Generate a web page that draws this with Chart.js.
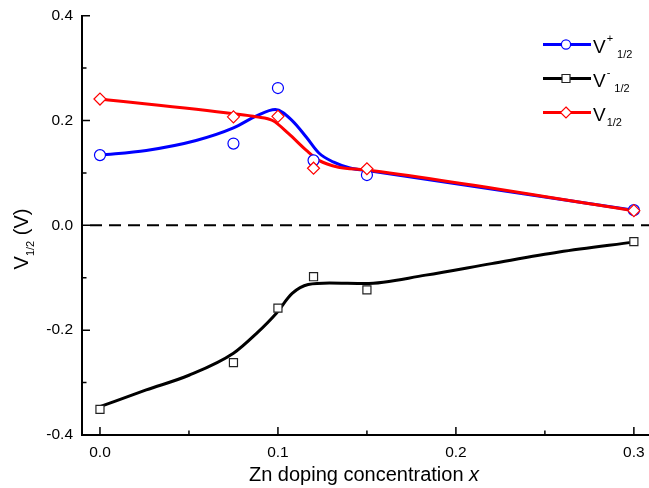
<!DOCTYPE html>
<html>
<head>
<meta charset="utf-8">
<script src="https://cdn.jsdelivr.net/npm/chart.js@4.4.0/dist/chart.umd.min.js"></script>
<style>
  html, body { margin: 0; padding: 0; background: #fff; }
  #wrap { width: 649px; height: 488px; }
</style>
</head>
<body>
<div id="wrap"><canvas id="chart" width="649" height="488"></canvas></div>
<script>
// measured points (Zn doping x vs V1/2)
const dopingX = [0, 0.075, 0.1, 0.12, 0.15, 0.3];
const vPlus   = [0.134, 0.156, 0.262, 0.124, 0.096, 0.029];
const vMinus  = [-0.351, -0.262, -0.158, -0.098, -0.123, -0.031];
const vHalf   = [0.241, 0.207, 0.208, 0.109, 0.108, 0.028];

// fitted curves
const fitPlusX  = [0, 0.026, 0.054, 0.075, 0.088, 0.0985, 0.108, 0.116, 0.123, 0.131, 0.140, 0.153, 0.3];
const fitPlusY  = [0.134, 0.143, 0.162, 0.186, 0.209, 0.221, 0.200, 0.168, 0.138, 0.121, 0.110, 0.103, 0.029];
const fitMinusX = [0, 0.026, 0.050, 0.075, 0.088, 0.099, 0.108, 0.117, 0.129, 0.149, 0.183, 0.220, 0.258, 0.3];
const fitMinusY = [-0.346, -0.314, -0.286, -0.244, -0.206, -0.168, -0.130, -0.113, -0.110, -0.111, -0.095, -0.073, -0.051, -0.032];
const fitHalfX  = [0, 0.075, 0.088, 0.097, 0.106, 0.116, 0.123, 0.134, 0.149, 0.3];
const fitHalfY  = [0.241, 0.213, 0.207, 0.200, 0.175, 0.143, 0.124, 0.111, 0.106, 0.028];

// axis ticks
const xTicks = [0, 0.1, 0.2, 0.3];
const xMinor = [0.05, 0.15, 0.25];
const yTicks = [-0.4, -0.2, 0, 0.2, 0.4];
const yMinor = [-0.3, -0.1, 0.1, 0.3];

const FONT = '"Liberation Sans", Arial, sans-serif';
const BLUE = '#0000ff', RED = '#ff0000', BLACK = '#000000';

function pts(xs, ys) {
  return xs.map((x, i) => ({ x: x, y: ys[i] }));
}

function drawMarker(ctx, style, x, y, r, color) {
  ctx.save();
  ctx.fillStyle = '#fff';
  ctx.strokeStyle = color;
  ctx.lineWidth = 1.2;
  ctx.beginPath();
  if (style === 'circle') {
    ctx.arc(x, y, r, 0, Math.PI * 2);
  } else if (style === 'rect') {
    ctx.rect(x - r, y - r, 2 * r, 2 * r);
  } else {
    ctx.moveTo(x, y - r); ctx.lineTo(x + r, y); ctx.lineTo(x, y + r); ctx.lineTo(x - r, y); ctx.closePath();
  }
  ctx.fill();
  ctx.stroke();
  ctx.restore();
}

// no extra room for the outer tick labels
function noPad(s) {
  s.paddingLeft = 0; s.paddingRight = 0; s.paddingTop = 0; s.paddingBottom = 0;
}

// zero line, inward ticks, axis titles and legend
const decor = {
  id: 'decor',
  beforeDatasetsDraw(chart) {
    const { ctx, chartArea: a, scales: { y } } = chart;
    const y0 = y.getPixelForValue(0);
    ctx.save();
    ctx.strokeStyle = BLACK;
    ctx.lineWidth = 2;
    ctx.setLineDash([12, 7]);
    ctx.beginPath();
    ctx.moveTo(a.left + 8, y0);
    ctx.lineTo(a.right, y0);
    ctx.stroke();
    ctx.restore();
  },
  afterDraw(chart) {
    const { ctx, chartArea: a, scales: { x, y } } = chart;
    ctx.save();
    ctx.strokeStyle = BLACK;
    ctx.lineWidth = 1.5;
    ctx.beginPath();
    xTicks.forEach(v => { const px = x.getPixelForValue(v); ctx.moveTo(px, a.bottom); ctx.lineTo(px, a.bottom - 8); });
    xMinor.forEach(v => { const px = x.getPixelForValue(v); ctx.moveTo(px, a.bottom); ctx.lineTo(px, a.bottom - 4.5); });
    yTicks.forEach(v => { const py = y.getPixelForValue(v); ctx.moveTo(a.left, py); ctx.lineTo(a.left + 8, py); });
    yMinor.forEach(v => { const py = y.getPixelForValue(v); ctx.moveTo(a.left, py); ctx.lineTo(a.left + 4.5, py); });
    ctx.stroke();

    // x title
    ctx.fillStyle = BLACK;
    ctx.textBaseline = 'alphabetic';
    ctx.textAlign = 'left';
    const main = 'Zn doping concentration ';
    ctx.font = '20px ' + FONT;
    const w1 = ctx.measureText(main).width;
    ctx.font = 'italic 20px ' + FONT;
    const w2 = ctx.measureText('x').width;
    let sx = 364 - (w1 + w2) / 2;
    ctx.font = '20px ' + FONT;
    ctx.fillText(main, sx, 481);
    ctx.font = 'italic 20px ' + FONT;
    ctx.fillText('x', sx + w1, 481);

    // y title, rotated
    ctx.save();
    ctx.translate(27.5, 239);
    ctx.rotate(-Math.PI / 2);
    ctx.font = '20px ' + FONT;
    const wV = ctx.measureText('V').width;
    const wRest = ctx.measureText(' (V)').width;
    ctx.font = '11px ' + FONT;
    const wSub = ctx.measureText('1/2').width;
    let tx = -(wV + wSub + wRest) / 2;
    ctx.font = '20px ' + FONT;
    ctx.fillText('V', tx, 0);
    ctx.font = '11px ' + FONT;
    ctx.fillText('1/2', tx + wV, 6);
    ctx.font = '20px ' + FONT;
    ctx.fillText(' (V)', tx + wV + wSub, 0);
    ctx.restore();

    // legend
    const rows = [
      { sup: '+', color: BLUE, style: 'circle', r: 4.6 },
      { sup: '-', color: BLACK, style: 'rect', r: 4, edge: '#222' },
      { sup: '', color: RED, style: 'diamond', r: 5.5 }
    ];
    rows.forEach((row, i) => {
      const ly = 44.5 + i * 34;
      ctx.strokeStyle = row.color;
      ctx.lineWidth = 3;
      ctx.beginPath();
      ctx.moveTo(543, ly);
      ctx.lineTo(591, ly);
      ctx.stroke();
      drawMarker(ctx, row.style, 566, ly, row.r, row.edge || row.color);
      ctx.fillStyle = BLACK;
      ctx.font = '19px ' + FONT;
      const bx = 593, by = ly + 8;
      ctx.fillText('V', bx, by);
      let cx = bx + ctx.measureText('V').width + 1;
      ctx.font = '11px ' + FONT;
      if (row.sup) {
        ctx.fillText(row.sup, cx, by - 10.5);
        cx += ctx.measureText(row.sup).width + 4;
      }
      ctx.fillText('1/2', cx, by + 5.5);
    });
    ctx.restore();
  }
};

const markerBase = { showLine: false, pointBorderWidth: 1.2, pointBackgroundColor: '#ffffff', pointHoverRadius: 6 };
const curveBase = { showLine: true, pointRadius: 0, borderWidth: 3, cubicInterpolationMode: 'monotone', fill: false };

new Chart(document.getElementById('chart'), {
  type: 'scatter',
  data: {
    datasets: [
      Object.assign({}, markerBase, { label: 'V-', data: pts(dopingX, vMinus), pointStyle: 'rect', pointRadius: 5.7, pointBorderColor: '#222', order: 1 }),
      Object.assign({}, markerBase, { label: 'V+', data: pts(dopingX, vPlus), pointStyle: 'circle', pointRadius: 5.5, pointBorderColor: BLUE, order: 1 }),
      Object.assign({}, markerBase, { label: 'V', data: pts(dopingX, vHalf), pointStyle: 'rectRot', pointRadius: 6, pointBorderColor: RED, order: 0 }),
      Object.assign({}, curveBase, { label: 'fit V-', data: pts(fitMinusX, fitMinusY), borderColor: BLACK, order: 3 }),
      Object.assign({}, curveBase, { label: 'fit V+', data: pts(fitPlusX, fitPlusY), borderColor: BLUE, order: 3 }),
      Object.assign({}, curveBase, { label: 'fit V', data: pts(fitHalfX, fitHalfY), borderColor: RED, order: 2 })
    ]
  },
  options: {
    responsive: false,
    animation: false,
    devicePixelRatio: 1,
    layout: { autoPadding: false, padding: { top: 15.7, left: 0, right: 0, bottom: 0 } },
    plugins: { legend: { display: false }, tooltip: { enabled: false } },
    scales: {
      x: {
        type: 'linear',
        min: -0.0101,
        max: 0.3085,
        afterBuildTicks: s => { s.ticks = xTicks.map(v => ({ value: v })); },
        afterFit: s => { s.height = 53; noPad(s); },
        grid: { display: false, drawTicks: false },
        border: { display: true, color: BLACK, width: 2 },
        ticks: { autoSkip: false, maxRotation: 0, padding: 8, color: BLACK, font: { family: FONT, size: 15.5 }, callback: v => v.toFixed(1) }
      },
      y: {
        type: 'linear',
        min: -0.4,
        max: 0.4,
        afterBuildTicks: s => { s.ticks = yTicks.map(v => ({ value: v })); },
        afterFit: s => { s.width = 82; noPad(s); },
        grid: { display: false, drawTicks: false },
        border: { display: true, color: BLACK, width: 2 },
        ticks: { autoSkip: false, padding: 9, color: BLACK, font: { family: FONT, size: 15.5 }, callback: v => v.toFixed(1) }
      }
    }
  },
  plugins: [decor]
});
</script>
</body>
</html>
